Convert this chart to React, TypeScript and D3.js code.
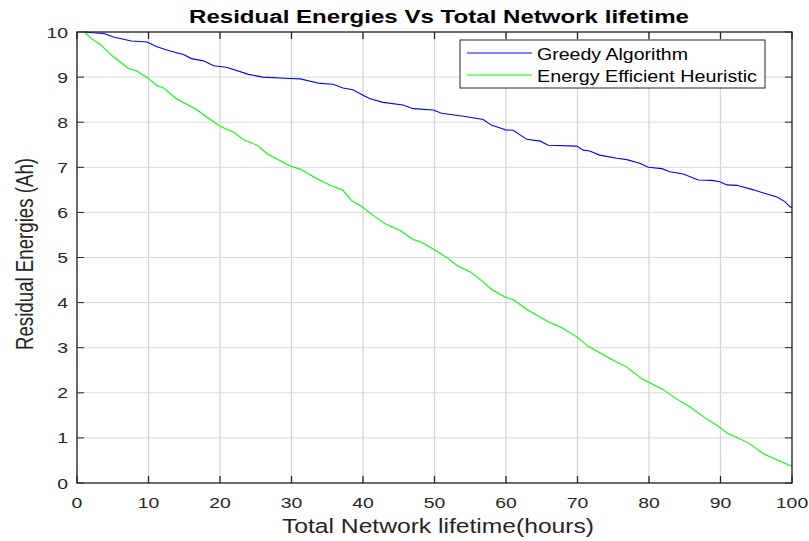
import React from 'react';
import * as d3 from 'd3';

// Greedy Algorithm (hours, Ah)
const greedyHours = [1, 3.9, 5.1, 7.6, 9.8, 11.1, 13, 14.9, 16, 17.7, 19.1, 20.9, 24, 26, 29.8, 31.2, 34, 35.8, 37.2, 38.6, 40, 41, 42.8, 45.6, 47, 49.8, 51, 54.5, 56.8, 58, 58.9, 59.9, 61, 62.9, 64.8, 65.9, 69.9, 70.8, 71.7, 73.1, 75.5, 76.9, 78.7, 79.9, 81.8, 82.9, 84.8, 86.9, 88.8, 89.9, 90.9, 92.3, 94.6, 96, 97.9, 99, 99.7, 100];
const greedyEnergy = [10, 9.96, 9.89, 9.8, 9.78, 9.68, 9.58, 9.5, 9.41, 9.36, 9.25, 9.22, 9.06, 9.0, 8.97, 8.96, 8.86, 8.84, 8.76, 8.72, 8.6, 8.52, 8.44, 8.38, 8.3, 8.27, 8.2, 8.12, 8.06, 7.93, 7.89, 7.83, 7.82, 7.62, 7.58, 7.49, 7.47, 7.38, 7.36, 7.27, 7.2, 7.17, 7.09, 7.0, 6.97, 6.9, 6.85, 6.72, 6.71, 6.68, 6.61, 6.6, 6.5, 6.43, 6.34, 6.24, 6.13, 6.1];

// Energy Efficient Heuristic (hours, Ah)
const heuristicHours = [1, 2.3, 3.2, 5.1, 7.2, 8.3, 10, 11.1, 12.1, 13.9, 16.7, 18.1, 20, 21.9, 23.3, 25.2, 26.6, 29.8, 31.2, 33.5, 35.4, 37.2, 38.4, 39.8, 41.7, 43.1, 45.2, 47, 48.2, 50.1, 51.9, 53.1, 55, 56.8, 58, 59.9, 61, 63.1, 65.7, 67.8, 69.9, 71.5, 74.8, 76.9, 79, 79.9, 82, 83.9, 85.7, 87.8, 89.7, 90.9, 93.9, 96, 98.1, 99.7, 100];
const heuristicEnergy = [10, 9.82, 9.73, 9.45, 9.19, 9.14, 8.97, 8.82, 8.76, 8.52, 8.28, 8.12, 7.91, 7.78, 7.61, 7.49, 7.3, 7.03, 6.96, 6.75, 6.6, 6.49, 6.26, 6.13, 5.9, 5.75, 5.6, 5.4, 5.34, 5.16, 4.98, 4.83, 4.68, 4.46, 4.29, 4.12, 4.07, 3.83, 3.59, 3.44, 3.24, 3.03, 2.74, 2.57, 2.31, 2.24, 2.07, 1.86, 1.69, 1.45, 1.26, 1.11, 0.89, 0.65, 0.5, 0.39, 0.37];

const xTicks = [0, 10, 20, 30, 40, 50, 60, 70, 80, 90, 100];
const yTicks = [0, 1, 2, 3, 4, 5, 6, 7, 8, 9, 10];
const seriesNames = ['Greedy Algorithm', 'Energy Efficient Heuristic'];

const W = 809;
const H = 541;
const left = 77;
const right = 792;
const top = 32;
const bottom = 483;
const font = 'Liberation Sans, Arial, sans-serif';
// the source picture was widened; text is stretched sideways to match
const stretch = 1.25;

export default function App() {
  const x = d3.scaleLinear().domain([0, 100]).range([left, right]);
  const y = d3.scaleLinear().domain([0, 10]).range([bottom, top]);
  const line = d3.line<[number, number]>().x(d => x(d[0])).y(d => y(d[1]));

  const greedy = greedyHours.map((h, i) => [h, greedyEnergy[i]] as [number, number]);
  const heuristic = heuristicHours.map((h, i) => [h, heuristicEnergy[i]] as [number, number]);
  const colors = ['#0000ff', '#00ff00'];

  return (
    <svg width={W} height={H} style={{ position: 'absolute', left: 0, top: 0, background: '#fff' }}>
      {/* grid */}
      {xTicks.map(t => (
        <line key={'gx' + t} x1={x(t)} x2={x(t)} y1={top} y2={bottom} stroke="#d6d6d6" strokeWidth={1.3} />
      ))}
      {yTicks.map(t => (
        <line key={'gy' + t} x1={left} x2={right} y1={y(t)} y2={y(t)} stroke="#d9d9d9" strokeWidth={1} />
      ))}

      {/* lines */}
      <path d={line(greedy) || ''} fill="none" stroke={colors[0]} strokeWidth={1.1} />
      <path d={line(heuristic) || ''} fill="none" stroke={colors[1]} strokeWidth={1.1} />

      {/* box */}
      <rect x={left} y={top} width={right - left} height={bottom - top} fill="none" stroke="#262626" strokeWidth={1.3} />

      {/* ticks */}
      {xTicks.map(t => (
        <g key={'tx' + t}>
          <line x1={x(t)} x2={x(t)} y1={bottom} y2={bottom - 7} stroke="#262626" strokeWidth={1.3} />
          <line x1={x(t)} x2={x(t)} y1={top} y2={top + 7} stroke="#262626" strokeWidth={1.3} />
          <text transform={`translate(${x(t)},${bottom + 25}) scale(${stretch},1)`} textAnchor="middle" fontFamily={font} fontSize={15.5} fill="#262626">{t}</text>
        </g>
      ))}
      {yTicks.map(t => (
        <g key={'ty' + t}>
          <line x1={left} x2={left + 7} y1={y(t)} y2={y(t)} stroke="#262626" />
          <line x1={right} x2={right - 7} y1={y(t)} y2={y(t)} stroke="#262626" />
          <text transform={`translate(${left - 9},${y(t) + 5.5}) scale(${stretch},1)`} textAnchor="end" fontFamily={font} fontSize={15.5} fill="#262626">{t}</text>
        </g>
      ))}

      {/* title & axis labels */}
      <text x={439} y={23} textAnchor="middle" fontFamily={font} fontSize={18} fontWeight="bold" fill="#000"
        textLength={500} lengthAdjust="spacingAndGlyphs">
        Residual Energies Vs Total Network lifetime
      </text>
      <text x={438} y={533} textAnchor="middle" fontFamily={font} fontSize={20.5} fill="#262626"
        textLength={312} lengthAdjust="spacingAndGlyphs">
        Total Network lifetime(hours)
      </text>
      <text transform={`translate(33,254) scale(${stretch},1) rotate(-90)`} textAnchor="middle" fontFamily={font} fontSize={19.5} fill="#262626"
        textLength={192} lengthAdjust="spacingAndGlyphs">
        Residual Energies (Ah)
      </text>

      {/* legend */}
      <g>
        <rect x={460} y={40} width={305} height={48} fill="#fff" stroke="#262626" strokeWidth={1} />
        {seriesNames.map((name, i) => (
          <g key={name}>
            <line x1={467} x2={532} y1={53 + i * 22} y2={53 + i * 22} stroke={colors[i]} strokeWidth={1.1} />
            <text x={537} y={59.5 + i * 22} fontFamily={font} fontSize={17} fill="#000"
              textLength={i === 0 ? 151 : 220} lengthAdjust="spacingAndGlyphs">{name}</text>
          </g>
        ))}
      </g>
    </svg>
  );
}
